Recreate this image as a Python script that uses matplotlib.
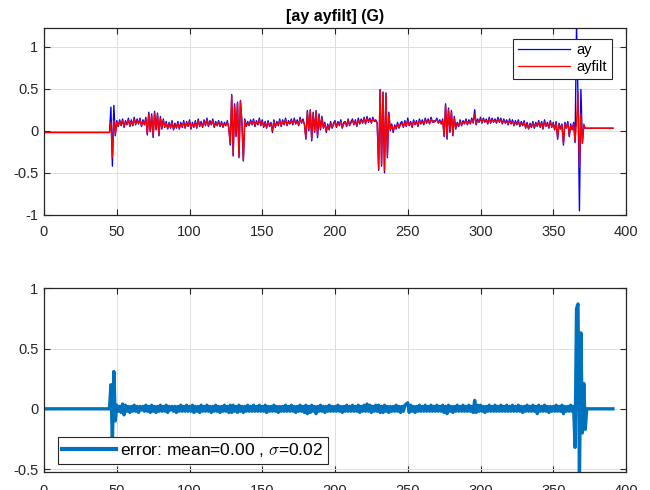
import numpy as np
import matplotlib
matplotlib.use("Agg")
import matplotlib.pyplot as plt

plt.rcParams['font.family'] = ['Liberation Sans', 'DejaVu Sans']
plt.rcParams['mathtext.fontset'] = 'cm'

# ---------------- data ----------------
x_first, x_main_first, x_main_last, x_last = 0, 40, 379, 391

ay_lead, ay_tail = -0.02, 0.03
ayfilt_lead, ayfilt_tail = -0.02, 0.03
err_lead, err_tail = 0.0, 0.0

# values in hundredths of G, one per second from x=40 to x=379
ay_main = [
    -2, -2, -2, -2, -2, -2, 28, -42, 30, -6,
    12, 5, 13, 6, 14, 4, 12, 7, 15, 5,
    13, 6, 16, 7, 14, 8, 15, 5, 13, 7,
    16, -5, 22, -1, 20, -8, 23, 1, 21, -6,
    17, 2, 14, 4, 11, 2, 10, 3, 12, 1,
    9, 3, 11, 2, 10, 4, 12, 3, 11, 5,
    13, 2, 10, 4, 12, 3, 14, 5, 11, 4,
    13, 6, 15, 5, 12, 7, 14, 4, 11, 6,
    12, 5, 11, 4, 10, 6, 12, 3, -17, 43,
    -30, 32, -7, 34, -32, 36, 12, -36, 14, 5,
    11, 6, 13, 7, 14, 5, 12, 7, 15, 6,
    13, 4, 11, 3, 12, 5, 10, -2, 13, 4,
    11, 6, 14, 5, 13, 7, 15, 6, 12, 8,
    14, 7, 15, 8, 13, 6, 16, 9, 14, 7,
    -10, 24, 0, 25, -12, 22, -2, 24, -8, 20,
    1, 17, 3, 10, -2, 8, 1, 11, 3, 9,
    12, 4, 11, 6, 13, 3, 10, 11, 5, 14,
    6, 11, 14, 7, 13, 5, 15, 8, 14, 9,
    16, 8, 17, 10, 15, 9, 16, 11, 13, 9,
    -47, 49, -42, 46, -50, 45, -32, 22, 0, 8,
    -2, 7, 2, 10, 3, 9, 11, 4, 12, 5,
    15, 6, 11, 4, 13, 7, 12, 5, 14, 8,
    13, 7, 15, 9, 14, 8, 16, 10, 12, 11,
    15, 9, 13, 8, 14, -7, 32, -10, 27, -2,
    24, -6, 17, 2, 10, 5, 13, 6, 12, 8,
    14, 7, 13, 8, 15, 9, 25, 7, 14, 10,
    16, 9, 15, 10, 14, 8, 16, 9, 15, 10,
    14, 9, 16, 10, 15, 8, 14, 9, 13, 7,
    14, 8, 13, 6, 12, 7, 13, 5, 11, 6,
    12, 3, 10, 2, 9, 4, 11, 3, 10, 5,
    12, 4, 11, 2, 13, 5, 10, 3, 12, 4,
    10, 1, 11, -10, 9, 2, 8, -17, 10, 3,
    11, -7, 8, 1, 10, -14, 125, 40, -95, 49,
    -15, 5, 3, 3, 3, 3, 3, 3, 3, 3,
]

ayfilt_main = [
    -2, -2, -2, -2, -2, -2, 10, -32, 12, -4,
    10, 6, 11, 7, 12, 5, 10, 8, 13, 6,
    11, 7, 14, 8, 12, 9, 13, 6, 11, 8,
    14, -3, 20, 0, 18, -6, 21, 2, 19, -4,
    15, 3, 12, 5, 9, 3, 8, 4, 10, 2,
    7, 4, 9, 3, 8, 5, 10, 4, 9, 6,
    11, 3, 8, 5, 10, 4, 12, 6, 9, 5,
    11, 7, 13, 6, 10, 8, 12, 5, 9, 7,
    10, 6, 9, 5, 8, 7, 10, 4, -15, 42,
    -28, 30, -5, 33, -30, 35, 10, -35, 12, 6,
    9, 7, 11, 8, 12, 6, 10, 8, 13, 7,
    11, 5, 9, 4, 10, 6, 8, 0, 11, 5,
    9, 7, 12, 6, 11, 8, 13, 7, 10, 9,
    12, 8, 13, 9, 11, 7, 14, 10, 12, 8,
    -8, 22, 2, 24, -10, 20, 0, 23, -6, 18,
    3, 15, 4, 8, 0, 6, 2, 9, 4, 7,
    10, 5, 9, 7, 11, 4, 8, 10, 6, 12,
    7, 9, 12, 8, 11, 6, 13, 9, 12, 10,
    14, 9, 15, 11, 13, 10, 14, 12, 11, 10,
    -45, 48, -40, 45, -47, 44, -30, 20, 2, 6,
    0, 5, 3, 8, 4, 7, 9, 5, 10, 6,
    12, 7, 9, 5, 11, 8, 10, 6, 12, 9,
    11, 8, 13, 10, 12, 9, 14, 11, 10, 12,
    13, 10, 11, 9, 12, -5, 30, -8, 25, 0,
    22, -4, 15, 3, 8, 6, 11, 7, 10, 9,
    12, 8, 11, 9, 13, 10, 20, 8, 12, 11,
    14, 10, 13, 11, 12, 9, 14, 10, 13, 11,
    12, 10, 14, 11, 13, 9, 12, 10, 11, 8,
    12, 9, 11, 7, 10, 8, 11, 6, 9, 7,
    10, 4, 8, 3, 7, 5, 9, 4, 8, 6,
    10, 5, 9, 3, 11, 6, 8, 4, 10, 5,
    8, 2, 9, -8, 7, 3, 6, -15, 8, 4,
    9, -5, 6, 2, 8, -12, 10, 45, -43, 20,
    -15, 8, 3, 3, 3, 3, 3, 3, 3, 3,
]

err_main = [
    0, 0, 0, 0, 0, 0, 20, -28, 31, -10,
    3, -2, 2, -3, 4, -5, 3, -2, 2, -3,
    2, -2, 3, -2, 2, -3, 2, -1, 2, -2,
    3, -2, 2, -3, 3, -2, 2, -3, 2, -2,
    3, -2, 2, -2, 3, -3, 2, -1, 2, -2,
    2, -3, 2, -2, 3, -2, 2, -2, 3, -2,
    2, -2, 3, -3, 2, -2, 2, -3, 3, -2,
    2, -2, 3, -2, 2, -3, 2, -2, 3, -2,
    2, -3, 2, -2, 3, -2, 2, -3, 3, -3,
    3, -2, 2, -3, 3, -2, 2, -3, 2, -2,
    3, -2, 2, -2, 3, -2, 2, -2, 3, -2,
    2, -2, 3, -3, 2, -2, 2, -2, 3, -2,
    2, -3, 2, -2, 2, -2, 3, -2, 2, -2,
    3, -2, 2, -3, 2, -2, 3, -2, 2, -3,
    3, -4, 2, -3, 3, -2, 2, -4, 2, -2,
    3, -2, 2, -3, 2, -2, 3, -2, 2, -2,
    2, -2, 3, -2, 2, -3, 2, -2, 3, -2,
    2, -2, 3, -2, 2, -2, 3, -3, 2, -2,
    3, -2, 4, -2, 3, -3, 2, -2, 3, -2,
    3, -3, 2, -3, 3, -2, 2, -3, 2, -2,
    2, -2, 3, -2, 2, -3, 2, -2, 3, 4,
    5, -3, 3, -2, 2, -3, 2, -2, 3, -2,
    2, -2, 3, -2, 2, -2, 3, -2, 2, -2,
    3, -2, 2, -2, 3, -3, 2, -4, 3, -2,
    2, -3, 2, -2, 3, -2, 2, -2, 3, -2,
    2, -2, 3, -2, 2, -3, 7, -3, 3, -2,
    3, -2, 2, -3, 2, -2, 3, -2, 2, -2,
    3, -2, 2, -2, 3, -2, 2, -2, 3, -2,
    2, -2, 3, -2, 2, -2, 3, -2, 2, -3,
    2, -2, 3, -2, 2, -2, 3, -2, 2, -4,
    3, -2, 2, -2, 3, -2, 2, -3, 2, -2,
    2, -2, 3, -2, 2, -2, 3, -4, 2, -2,
    2, -2, 3, -2, 2, -32, 83, 87, -60, 63,
    -20, 21, -17, 0, 0, 0, 0, 0, 0, 0,
]

title_text = '[ay ayfilt] (G)'
series_labels = ['ay', 'ayfilt']
err_label = r'error: mean=0.00 , $\sigma$=0.02'
xticks = [0, 50, 100, 150, 200, 250, 300, 350, 400]
yticks_top = [-1, -0.5, 0, 0.5, 1]
yticks_bot = [-0.5, 0, 0.5, 1]

# ---------------- build series ----------------
x = np.arange(x_first, x_last + 1)
n_lead = x_main_first - x_first
n_tail = x_last - x_main_last


def build(lead, main, tail):
    return np.concatenate([np.full(n_lead, lead), np.asarray(main) / 100.0,
                           np.full(n_tail, tail)])


ay = build(ay_lead, ay_main, ay_tail)
ayfilt = build(ayfilt_lead, ayfilt_main, ayfilt_tail)
err = build(err_lead, err_main, err_tail)

# ---------------- figure ----------------
W, H = 650, 490
fig = plt.figure(figsize=(W / 100, H / 100), dpi=100)
ax1 = fig.add_axes([44 / W, 1 - 215 / H, 582 / W, 187 / H])
ax2 = fig.add_axes([44 / W, 1 - 471.5 / H, 582 / W, 183.2 / H])

edge = '#262626'
for ax in (ax1, ax2):
    ax.set_axisbelow(True)
    ax.grid(True, color='#dfdfdf', lw=0.7)
    for s in ax.spines.values():
        s.set_color(edge)
        s.set_linewidth(0.9)
    ax.tick_params(direction='in', top=True, right=True, length=4.5, width=0.8,
                   color=edge, labelcolor=edge, labelsize=10.5)
    ax.tick_params(axis='y', pad=4)
    ax.set_xticks(xticks)
    ax.set_xticklabels([str(t) for t in xticks])
    ax.set_xlim(0, 400)
ax1.tick_params(axis='x', pad=7.5)
ax2.tick_params(axis='x', pad=9)

ax1.plot(x, ay, color='#0000ff', lw=1.0, label=series_labels[0])
ax1.plot(x, ayfilt, color='#ff0000', lw=1.0, label=series_labels[1])
ax1.set_ylim(-1, 1.22)
ax1.set_yticks(yticks_top)
ax1.set_yticklabels(['-1', '-0.5', '0', '0.5', '1'])
ax1.set_title(title_text, fontweight='bold', fontsize=11.5, pad=5, color='#000000')
leg1 = ax1.legend(loc='upper right', bbox_to_anchor=(0.9754, 0.941), borderaxespad=0,
                  fontsize=10.5, handlelength=3.6, handletextpad=0.45,
                  labelspacing=0.2, borderpad=0.3, fancybox=False, framealpha=1)
leg1.get_frame().set_edgecolor(edge)
leg1.get_frame().set_linewidth(0.8)
for h in leg1.get_lines():
    h.set_linewidth(0.9)

ax2.plot(x, err, color='#0072bd', lw=2.4, label=err_label)
ax2.set_ylim(-0.52, 1)
ax2.set_yticks(yticks_bot)
ax2.set_yticklabels(['-0.5', '0', '0.5', '1'])
leg2 = ax2.legend(loc='lower left', bbox_to_anchor=(0.024, 0.042), borderaxespad=0,
                  fontsize=12.5, handlelength=3.1, handletextpad=0.25,
                  borderpad=0.25, fancybox=False, framealpha=1)
leg2.get_frame().set_edgecolor(edge)
leg2.get_frame().set_linewidth(0.8)
for h in leg2.get_lines():
    h.set_linewidth(3.0)

fig.savefig('out.png', dpi=100)
